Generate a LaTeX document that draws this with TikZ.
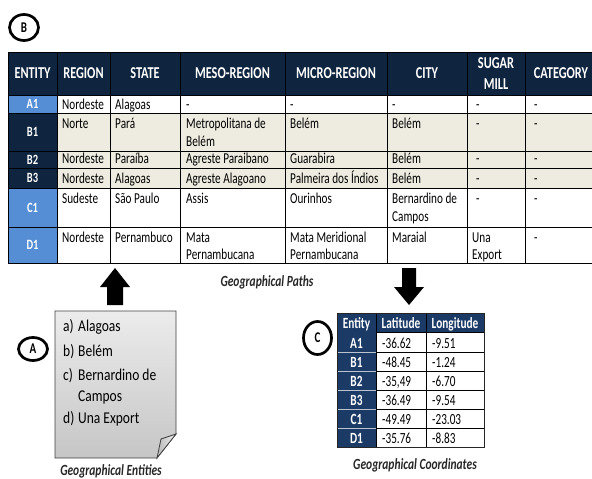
\documentclass[tikz,border=0pt]{standalone}
\usepackage{fontspec}
\setmainfont{Carlito}
\usepackage{graphicx}
\usetikzlibrary{shapes.geometric}
\definecolor{hdnavy}{HTML}{0F243E}
\definecolor{cnavy}{HTML}{1B3A66}
\definecolor{entblue}{HTML}{558ED5}
\definecolor{tanbg}{HTML}{EEECE1}
\newcommand\vs[1]{\scalebox{1}[1.35]{#1}}
\newcommand\vsc[1]{\scalebox{1}[1.38]{#1}}
\newcommand\vsd[1]{\scalebox{1}[1.22]{#1}}
\begin{document}
\begin{tikzpicture}[x=1pt,y=-1pt,
  body/.style={anchor=base west, inner sep=0pt, text=black, font=\fontsize{11.2}{13}\selectfont},
  hdr/.style={anchor=center, inner sep=0pt, text=white, font=\bfseries\fontsize{12.3}{14}\selectfont},
  ent/.style={anchor=center, inner sep=0pt, text=white, font=\bfseries\fontsize{10.5}{12}\selectfont},
  chdr/.style={anchor=base, inner sep=0pt, text=white, font=\bfseries\fontsize{11.3}{13}\selectfont},
  cdat/.style={anchor=base west, inner sep=0pt, text=black, font=\fontsize{11.2}{13}\selectfont},
  listt/.style={anchor=base west, inner sep=0pt, text=black, font=\fontsize{13.5}{15}\selectfont},
  captext/.style={anchor=center, inner sep=0pt, text=black!85, font=\bfseries\itshape\fontsize{11.5}{13}\selectfont},
  gridl/.style={draw=black, line width=0.8pt},
  badge/.style={draw=black, line width=2.7pt, ellipse, inner sep=0pt, font=\bfseries\fontsize{11}{13}\selectfont},
  blockarrow/.style={fill=black}]
\useasboundingbox (0,0) rectangle (592,479);

% ---------- main table (B) ----------
\fill[hdnavy] (8,52) rectangle (592,95);
\fill[white] (57,95) rectangle (592,113);
\fill[tanbg] (57,113) rectangle (592,188);
\fill[white] (57,188) rectangle (592,263);
\fill[entblue] (8,95) rectangle (57,113);
\fill[hdnavy] (8,113) rectangle (57,188);
\fill[entblue] (8,188) rectangle (57,263);
\foreach \y in {52,95,113,151,168,188,227,263} \draw[gridl] (8,\y) -- (592,\y);
\foreach \x in {8,57,110,180,285,387,467,525} \draw[gridl] (\x,52) -- (\x,263);

\node[hdr] (hEnt) at (32.5,73.5) {\vs{ENTITY}};
\node[hdr] (hReg) at (83.5,73.5) {\vs{REGION}};
\node[hdr] (hSta) at (145,73.5) {\vs{STATE}};
\node[hdr] (hMes) at (232.5,73.5) {\vs{MESO-REGION}};
\node[hdr] (hMic) at (336,73.5) {\vs{MICRO-REGION}};
\node[hdr] (hCit) at (427,73.5) {\vs{CITY}};
\node[hdr] (hSug) at (496,63) {\vs{SUGAR}};
\node[hdr] (hMil) at (496,84) {\vs{MILL}};
\node[hdr] (hCat) at (561,73.5) {\vs{CATEGORY}};

\node[ent] (eA1) at (32.5,104) {\vs{A1}};
\node[ent] (eB1) at (32.5,132) {\vs{B1}};
\node[ent] (eB2) at (32.5,159.5) {\vs{B2}};
\node[ent] (eB3) at (32.5,178) {\vs{B3}};
\node[ent] (eC1) at (32.5,207.5) {\vs{C1}};
\node[ent] (eD1) at (32.5,245) {\vs{D1}};

\foreach \x/\t [count=\i] in {62/Nordeste,115/Alagoas,186/-,290/-,392/-,476/-,534/-}
  \node[body] (rA\i) at (\x,109) {\vs{\t}};
\foreach \x/\t [count=\i] in {62/Norte,115/Pará,186/Metropolitana de,290/Belém,392/Belém,476/-,534/-}
  \node[body] (rB\i) at (\x,128) {\vs{\t}};
\node[body] (rBx) at (186,146) {\vs{Belém}};
\foreach \x/\t [count=\i] in {62/Nordeste,115/Paraíba,186/Agreste Paraibano,290/Guarabira,392/Belém,476/-,534/-}
  \node[body] (rC\i) at (\x,163) {\vs{\t}};
\foreach \x/\t [count=\i] in {62/Nordeste,115/Alagoas,186/Agreste Alagoano,290/Palmeira dos Índios,392/Belém,476/-,534/-}
  \node[body] (rD\i) at (\x,183.5) {\vs{\t}};
\foreach \x/\t [count=\i] in {62/Sudeste,115/São Paulo,186/Assis,290/Ourinhos,392/Bernardino de,476/-,534/-}
  \node[body] (rE\i) at (\x,203) {\vs{\t}};
\node[body] (rEx) at (392,221) {\vs{Campos}};
\foreach \x/\t [count=\i] in {62/Nordeste,115/Pernambuco,186/Mata,290/Mata Meridional,392/Maraial,472/Una,534/-}
  \node[body] (rF\i) at (\x,242) {\vs{\t}};
\foreach \x/\t [count=\i] in {186/Pernambucana,290/Pernambucana,472/Export}
  \node[body] (rG\i) at (\x,259) {\vs{\t}};

\node[badge, minimum width=29pt, minimum height=26pt] (badgeB) at (24,27.5) {\vs{B}};

% ---------- arrows ----------
\fill[blockarrow] (115,268) -- (130,287) -- (123,287) -- (123,305) -- (107,305) -- (107,287) -- (100,287) -- cycle;
\fill[blockarrow] (409,305) -- (424,287) -- (416,287) -- (416,268) -- (402,268) -- (402,287) -- (394,287) -- cycle;
\node[captext] (capP) at (267,282) {\vs{Geographical Paths}};

% ---------- document (A) ----------
\shade[top color=gray!15, bottom color=gray!45] (55,311) -- (176,311) -- (176,434) -- (157,458) -- (55,458) -- cycle;
\draw[black!75, line width=0.8pt] (55,311) -- (176,311) -- (176,434) -- (157,458) -- (55,458) -- cycle;
\shade[left color=gray!55, right color=gray!12] (176,434) -- (161,439) -- (157,458) -- cycle;
\draw[black!75, line width=0.8pt] (176,434) -- (161,439) -- (157,458) -- cycle;

\node[listt] (la) at (63,331) {\vsd{a)}};
\node[listt] (lat) at (78,331) {\vsd{Alagoas}};
\node[listt] (lb) at (63,356) {\vsd{b)}};
\node[listt] (lbt) at (78,356) {\vsd{Belém}};
\node[listt] (lc) at (63,380) {\vsd{c)}};
\node[listt] (lct) at (78,380) {\vsd{Bernardino de}};
\node[listt] (lct2) at (78,401) {\vsd{Campos}};
\node[listt] (ld) at (63,423) {\vsd{d)}};
\node[listt] (ldt) at (78,423) {\vsd{Una Export}};

\node[badge, minimum width=29pt, minimum height=23pt] (badgeA) at (33,349) {\vs{A}};
\node[captext] (capE) at (111,471) {\vs{Geographical Entities}};

% ---------- coordinates table (C) ----------
\fill[cnavy] (337,313) rectangle (484,332);
\fill[cnavy] (337,332) rectangle (376,447);
\fill[white] (376,332) rectangle (484,447);
\foreach \y in {352,371,390,409,428} \draw[white!70!cnavy, line width=0.8pt] (337,\y) -- (376,\y);
\foreach \y in {332,352,371,390,409,428} \draw[gridl] (376,\y) -- (484,\y);
\foreach \x in {376,426} \draw[gridl] (\x,313) -- (\x,447);
\draw[black!85, line width=1pt] (337,313) rectangle (484,447);

\node[chdr] (cE) at (356.5,328) {\vsc{Entity}};
\node[chdr] (cLa) at (401,328) {\vsc{Latitude}};
\node[chdr] (cLo) at (455,328) {\vsc{Longitude}};
\foreach \e/\la/\lo/\b [count=\i] in {A1/-36.62/-9.51/348, B1/-48.45/-1.24/367, B2/{-35,49}/-6.70/386, B3/-36.49/-9.54/405, C1/-49.49/-23.03/424, D1/-35.76/-8.83/443}{
  \node[chdr] (ce\i) at (356.5,\b) {\vsc{\e}};
  \node[cdat] (cla\i) at (382,\b) {\vsc{\la}};
  \node[cdat] (clo\i) at (432,\b) {\vsc{\lo}};
}
\node[badge, minimum width=28pt, minimum height=33pt] (badgeC) at (317.5,338) {\vs{C}};
\node[captext] (capC) at (415,465) {\vs{Geographical Coordinates}};
\end{tikzpicture}
\end{document}
